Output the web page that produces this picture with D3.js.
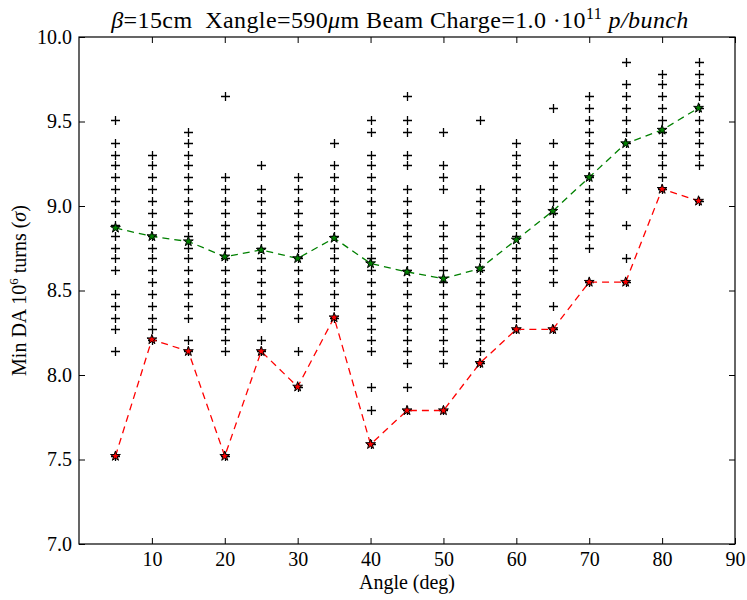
<!DOCTYPE html>
<html>
<head>
<meta charset="UTF-8">
<style>
body, html {
    margin: 0;
    padding: 0;
    background: #ffffff;
    overflow: hidden;
}
svg text {
    font-family: "Liberation Serif", "DejaVu Serif", serif;
    fill: #000;
}
</style>
</head>
<body>
<svg id="chart" width="747" height="600"></svg>

<script src="https://d3js.org/d3.v7.min.js"></script>
<script>
// crossing angles (deg)
const angles = [5, 10, 15, 20, 25, 30, 35, 40, 45, 50, 55, 60, 65, 70, 75, 80, 85];

// DA of every seed at each angle (the "+" markers), one list per angle
const daSeeds = [
    [7.52, 8.14, 8.27, 8.34, 8.41, 8.48, 8.62, 8.69, 8.75, 8.82, 8.89, 8.96, 9.03, 9.10, 9.17, 9.24, 9.30, 9.37, 9.51],
    [8.21, 8.27, 8.34, 8.41, 8.48, 8.55, 8.62, 8.69, 8.75, 8.82, 8.89, 8.96, 9.03, 9.10, 9.17, 9.24, 9.30],
    [8.14, 8.21, 8.34, 8.41, 8.48, 8.55, 8.62, 8.69, 8.75, 8.82, 8.89, 8.96, 9.03, 9.10, 9.17, 9.24, 9.30, 9.37, 9.44],
    [7.52, 8.14, 8.21, 8.27, 8.34, 8.41, 8.48, 8.55, 8.62, 8.69, 8.75, 8.82, 8.89, 8.96, 9.03, 9.10, 9.17, 9.65],
    [8.14, 8.21, 8.34, 8.41, 8.48, 8.55, 8.62, 8.69, 8.75, 8.82, 8.89, 8.96, 9.03, 9.10, 9.24],
    [7.93, 8.14, 8.34, 8.41, 8.48, 8.55, 8.62, 8.69, 8.75, 8.82, 8.89, 8.96, 9.03, 9.10, 9.17],
    [8.34, 8.41, 8.48, 8.55, 8.62, 8.69, 8.75, 8.82, 8.89, 8.96, 9.03, 9.10, 9.17, 9.24, 9.37],
    [7.59, 7.79, 7.93, 8.14, 8.21, 8.27, 8.34, 8.41, 8.48, 8.55, 8.62, 8.69, 8.75, 8.82, 8.89, 8.96, 9.03, 9.10, 9.17, 9.24, 9.30, 9.44, 9.51],
    [7.79, 7.93, 8.07, 8.14, 8.21, 8.27, 8.34, 8.41, 8.48, 8.55, 8.62, 8.69, 8.75, 8.82, 8.89, 8.96, 9.03, 9.10, 9.24, 9.30, 9.44, 9.51, 9.65],
    [7.79, 8.07, 8.14, 8.21, 8.27, 8.34, 8.41, 8.48, 8.55, 8.62, 8.69, 8.75, 8.82, 8.89, 9.10, 9.17, 9.24, 9.44],
    [8.07, 8.14, 8.21, 8.27, 8.34, 8.41, 8.48, 8.55, 8.62, 8.69, 8.75, 8.82, 8.89, 8.96, 9.03, 9.10, 9.51],
    [8.27, 8.34, 8.41, 8.48, 8.55, 8.62, 8.69, 8.75, 8.82, 8.89, 8.96, 9.03, 9.10, 9.17, 9.24, 9.30, 9.37],
    [8.27, 8.41, 8.55, 8.62, 8.69, 8.75, 8.82, 8.89, 8.96, 9.03, 9.10, 9.17, 9.24, 9.37, 9.58],
    [8.55, 8.75, 8.82, 8.89, 8.96, 9.03, 9.10, 9.17, 9.24, 9.30, 9.37, 9.44, 9.51, 9.58, 9.65],
    [8.55, 8.69, 8.89, 9.10, 9.17, 9.24, 9.30, 9.37, 9.44, 9.51, 9.58, 9.65, 9.72, 9.85],
    [9.10, 9.17, 9.24, 9.30, 9.37, 9.44, 9.51, 9.58, 9.65, 9.72, 9.78],
    [9.03, 9.24, 9.30, 9.37, 9.44, 9.51, 9.58, 9.65, 9.72, 9.78, 9.85]
];

// average over seeds (green) and minimum (red)
const daMean = [8.87, 8.82, 8.79, 8.70, 8.74, 8.69, 8.81, 8.66, 8.61, 8.57, 8.63, 8.80, 8.97, 9.17, 9.37, 9.45, 9.58];
const daMin = [7.52, 8.21, 8.14, 7.52, 8.14, 7.93, 8.34, 7.59, 7.79, 7.79, 8.07, 8.27, 8.27, 8.55, 8.55, 9.10, 9.03];

const xTicks = [10, 20, 30, 40, 50, 60, 70, 80, 90];
const yTicks = [7.0, 7.5, 8.0, 8.5, 9.0, 9.5, 10.0];

let margin = {left: 79, top: 37, right: 12, bottom: 56};
let width = 747 - margin.left - margin.right,
    height = 600 - margin.top - margin.bottom;

let svg = d3.select("#chart");
let g = svg.append("g").attr("transform", `translate(${margin.left},${margin.top})`);

let x = d3.scaleLinear().domain([0, 90]).range([0, width]);
let y = d3.scaleLinear().domain([7, 10]).range([height, 0]);

// all the seeds
let plus = "M-4.5,0H4.5M0,-4.5V4.5";
let seeds = [];
angles.forEach((a, i) => daSeeds[i].forEach(v => seeds.push({a: a, v: v})));

g.append("g").selectAll("path")
    .data(seeds)
    .enter()
    .append("path")
    .attr("d", plus)
    .attr("transform", d => `translate(${Math.round(x(d.a)) + 0.5},${Math.round(y(d.v)) + 0.5})`)
    .attr("stroke", "#000")
    .attr("stroke-width", 1.3)
    .attr("fill", "none");

// dashed lines + stars
let line = d3.line()
    .x((d, i) => x(angles[i]))
    .y(d => y(d));

let star = d3.symbol().type(d3.symbolStar).size(30);

function drawSeries(values, color) {
    g.append("path")
        .datum(values)
        .attr("d", line)
        .attr("fill", "none")
        .attr("stroke", color)
        .attr("stroke-width", 1.3)
        .attr("stroke-dasharray", "7,5");

    g.append("g").selectAll("path")
        .data(values)
        .enter()
        .append("path")
        .attr("d", star)
        .attr("transform", (d, i) => `translate(${x(angles[i])},${y(d)})`)
        .attr("fill", color)
        .attr("stroke", "#000")
        .attr("stroke-width", 1);
}

drawSeries(daMean, "#008000");
drawSeries(daMin, "#ff0000");

// axes, ticks pointing inwards on all four sides
let xAxis = d3.axisBottom(x).tickValues(xTicks).tickSizeInner(-6).tickSizeOuter(0).tickPadding(8).tickFormat(d3.format("d"));
let yAxis = d3.axisLeft(y).tickValues(yTicks).tickSizeInner(-6).tickSizeOuter(0).tickPadding(7).tickFormat(d3.format(".1f"));

let gx = g.append("g").attr("transform", `translate(0,${height})`).call(xAxis);
let gy = g.append("g").call(yAxis);
let gxTop = g.append("g").call(d3.axisTop(x).tickValues(xTicks).tickSizeInner(-6).tickSizeOuter(0).tickFormat(""));
let gyRight = g.append("g").attr("transform", `translate(${width},0)`)
    .call(d3.axisRight(y).tickValues(yTicks).tickSizeInner(-6).tickSizeOuter(0).tickFormat(""));

[gx, gy, gxTop, gyRight].forEach(a => {
    a.select(".domain").remove();
    a.selectAll("line").attr("stroke", "#000").attr("stroke-width", 1);
    a.selectAll("text").attr("font-size", 20).attr("font-family", "Liberation Serif");
});

g.append("rect")
    .attr("width", width)
    .attr("height", height)
    .attr("fill", "none")
    .attr("stroke", "#000")
    .attr("stroke-width", 1.2);

// axis labels
g.append("text")
    .attr("x", width / 2)
    .attr("y", height + 45)
    .attr("text-anchor", "middle")
    .attr("font-size", 20)
    .text("Angle (deg)");

let yl = g.append("text")
    .attr("transform", `translate(-53,${height / 2}) rotate(-90)`)
    .attr("text-anchor", "middle")
    .attr("font-size", 20);
yl.append("tspan").text("Min DA 10");
yl.append("tspan").attr("font-size", 13).attr("dy", -8).text("6");
yl.append("tspan").attr("dy", 8).text(" turns (");
yl.append("tspan").attr("font-style", "italic").text("σ");
yl.append("tspan").text(")");

// title
let title = svg.append("text")
    .attr("x", 400)
    .attr("y", 28)
    .attr("text-anchor", "middle")
    .attr("font-size", 24)
    .attr("letter-spacing", 0.4);
title.append("tspan").attr("font-style", "italic").text("β");
title.append("tspan").text("=15cm\u00a0\u00a0Xangle=590");
title.append("tspan").attr("font-style", "italic").text("μ");
title.append("tspan").text("m Beam Charge=1.0 ·10");
title.append("tspan").attr("font-size", 16).attr("dy", -9).text("11");
title.append("tspan").attr("dy", 9).attr("font-style", "italic").text(" p/bunch");
</script>
</body>
</html>
